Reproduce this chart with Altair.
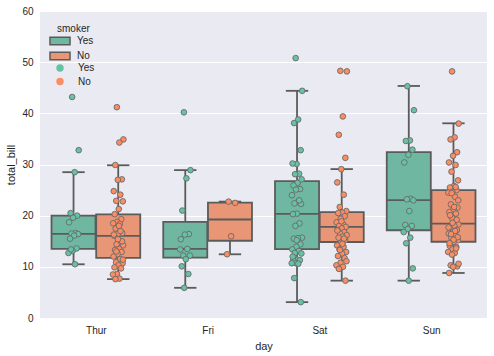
import altair as alt
import pandas as pd

days = ["Thur", "Fri", "Sat", "Sun"]
smokers = ["Yes", "No"]

# Box statistics (day, smoker order)
box_day = ["Thur", "Thur", "Fri", "Fri", "Sat", "Sat", "Sun", "Sun"]
box_smoker = ["Yes", "No", "Yes", "No", "Yes", "No", "Yes", "No"]
box_lo = [10.5, 7.6, 5.9, 12.45, 3.1, 7.3, 7.3, 8.8]
box_q1 = [13.5, 11.75, 11.8, 15.1, 13.45, 14.85, 17.15, 14.9]
box_med = [16.45, 16.05, 13.5, 19.25, 20.35, 17.8, 23.05, 18.45]
box_q3 = [20.0, 20.25, 18.8, 22.55, 26.75, 20.7, 32.4, 25.0]
box_hi = [28.5, 29.85, 28.9, 22.75, 44.4, 29.1, 45.35, 38.05]

# Individual bills (strip points)
thur_yes = [43.2, 32.8, 28.5, 20.5, 20.0, 19.6, 18.7, 16.6, 16.5, 16.4, 16.1, 15.5,
            13.6, 13.1, 12.7, 10.5, 13.4]
thur_no = [41.2, 34.9, 34.3, 29.9, 27.1, 27.0, 24.8, 24.1, 22.9, 22.8, 21.3, 20.3,
           19.3, 18.8, 18.5, 18.4, 17.5, 16.6, 16.5, 16.1, 14.7, 14.4, 14.2, 13.5,
           13.3, 12.9, 12.5, 12.0, 11.5, 10.9, 10.7, 10.3, 9.9, 9.7, 8.6, 8.5, 7.7,
           7.6, 15.0, 15.4, 16.3, 17.0, 13.0, 11.4, 18.0]
fri_yes = [40.2, 28.9, 27.3, 21.0, 16.4, 16.3, 15.4, 13.5, 12.2, 12.2, 11.5, 10.1,
           8.6, 5.9, 13.4]
fri_no = [22.75, 22.49, 15.98, 12.46]
sat_yes = [50.8, 44.4, 38.8, 38.1, 32.8, 30.1, 30.2, 28.2, 28.1, 27.1, 26.4, 25.9,
           25.2, 25.1, 24.0, 22.8, 22.4, 22.3, 20.4, 20.3, 18.5, 18.0, 15.7, 15.6,
           15.5, 14.4, 13.9, 13.4, 13.1, 12.7, 12.6, 11.4, 11.3, 11.3, 10.7, 10.7,
           10.6, 7.8, 3.1, 15.2, 12.0, 23.0]
sat_no = [48.3, 48.2, 39.4, 35.8, 31.3, 29.1, 26.5, 24.1, 21.7, 20.9, 20.6, 20.5,
          19.9, 19.4, 18.7, 18.3, 18.0, 17.8, 17.5, 17.2, 16.8, 16.5, 16.2, 15.9,
          15.7, 15.2, 14.7, 14.2, 13.9, 13.4, 12.9, 12.6, 12.1, 11.7, 10.8, 10.3,
          10.0, 9.6, 7.3, 18.9, 17.1, 15.5, 13.3, 11.1, 14.5]
sun_yes = [45.3, 40.6, 34.7, 34.6, 32.9, 31.9, 30.4, 23.3, 23.2, 23.0, 20.9, 18.2,
           18.0, 17.4, 16.8, 15.7, 14.6, 9.7, 7.3]
sun_no = [48.2, 38.0, 35.3, 34.9, 32.4, 31.7, 30.4, 29.9, 28.6, 26.9, 25.8, 25.5,
          25.0, 24.6, 24.5, 23.7, 22.2, 21.6, 21.2, 20.7, 20.4, 19.6, 18.3, 18.0,
          17.4, 17.2, 16.8, 16.5, 16.2, 15.7, 15.2, 14.9, 14.1, 13.9, 13.4, 12.9,
          12.7, 10.3, 10.1, 10.0, 8.8, 25.6, 24.4, 23.0, 21.7, 20.1, 19.2, 18.6,
          17.7, 17.0, 16.4, 15.8, 15.3, 14.6, 13.6, 12.4, 10.6]

groups = [("Thur", "Yes", thur_yes), ("Thur", "No", thur_no),
          ("Fri", "Yes", fri_yes), ("Fri", "No", fri_no),
          ("Sat", "Yes", sat_yes), ("Sat", "No", sat_no),
          ("Sun", "Yes", sun_yes), ("Sun", "No", sun_no)]

box_colors = ["#70b7a1", "#e89675"]
point_colors = ["#66c2a5", "#fc8d62"]
edge = "#5b5b5b"
DODGE = 0.2
HALF = 0.197
CAP = 0.1
JIT = 0.095

def center(day, smoker):
    return days.index(day) + (-DODGE if smoker == "Yes" else DODGE)

boxes = pd.DataFrame({
    "day": box_day, "smoker": box_smoker, "lo": box_lo, "q1": box_q1,
    "med": box_med, "q3": box_q3, "hi": box_hi,
})
boxes["pos"] = [center(d, s) for d, s in zip(box_day, box_smoker)]
boxes["xl"] = boxes["pos"] - HALF
boxes["xr"] = boxes["pos"] + HALF
boxes["cl"] = boxes["pos"] - CAP
boxes["cr"] = boxes["pos"] + CAP

rows = []
for d, s, vals in groups:
    for i, v in enumerate(vals):
        j = ((i * 0.6180339887 + 0.37) % 1.0 - 0.5) * JIT
        rows.append({"day": d, "smoker_pt": s, "total_bill": v, "pos": center(d, s) + j})
pts = pd.DataFrame(rows)

xscale = alt.Scale(domain=[-0.5, 3.5], nice=False, zero=False)
yscale = alt.Scale(domain=[0, 60], nice=False)
xaxis = alt.Axis(values=[0, 1, 2, 3], labelExpr="['Thur','Fri','Sat','Sun'][datum.value]",
                 grid=False, ticks=False, domain=False, title="day",
                 labelPadding=7, titlePadding=5)
yaxis = alt.Axis(values=[0, 10, 20, 30, 40, 50, 60], ticks=False, domain=False,
                 title="total_bill", labelPadding=7, titlePadding=5, gridColor="white",
                 gridWidth=1.2)

base = alt.Chart(boxes)

bars = base.mark_bar(stroke=edge, strokeWidth=1.8).encode(
    x=alt.X("xl:Q", scale=xscale, axis=xaxis),
    x2="xr:Q",
    y=alt.Y("q1:Q", scale=yscale, axis=yaxis),
    y2="q3:Q",
    color=alt.Color("smoker:N", scale=alt.Scale(domain=smokers, range=box_colors),
                    legend=alt.Legend(title="smoker", orient="none", legendX=17, legendY=13,
                                      symbolType="M-1.43,-0.54H1.43V0.54H-1.43Z", symbolSize=196,
                                      symbolStrokeColor=edge, symbolStrokeWidth=1.5,
                                      symbolOffset=-5, labelOffset=9, rowPadding=-2,
                                      titlePadding=-1, padding=0)),
)
wlow = base.mark_rule(color=edge, strokeWidth=1.8).encode(x="pos:Q", y="lo:Q", y2="q1:Q")
whigh = base.mark_rule(color=edge, strokeWidth=1.8).encode(x="pos:Q", y="q3:Q", y2="hi:Q")
cap_lo = base.mark_rule(color=edge, strokeWidth=1.8).encode(x="cl:Q", x2="cr:Q", y="lo:Q")
cap_hi = base.mark_rule(color=edge, strokeWidth=1.8).encode(x="cl:Q", x2="cr:Q", y="hi:Q")
meds = base.mark_rule(color=edge, strokeWidth=1.8).encode(x="xl:Q", x2="xr:Q", y="med:Q")

points = alt.Chart(pts).mark_circle(size=32, opacity=1, stroke="#6a6a6a", strokeWidth=0.9).encode(
    x="pos:Q",
    y="total_bill:Q",
    fill=alt.Fill("smoker_pt:N", scale=alt.Scale(domain=smokers, range=point_colors),
                  legend=alt.Legend(title=None, orient="none", legendX=15, legendY=52,
                                    symbolType="circle", symbolSize=55, symbolStrokeWidth=0,
                                    labelOffset=13, rowPadding=3.5, padding=0)),
)

chart = alt.layer(bars, wlow, whigh, cap_lo, cap_hi, meds, points).resolve_scale(
    color="independent", fill="independent"
).properties(
    width=447, height=307,
    autosize=alt.AutoSizeParams(type="none"),
    padding={"left": 40, "top": 11, "right": 7, "bottom": 38},
).configure_view(fill="#EAEAF2", stroke=None).configure_axis(
    labelFont="Liberation Sans", titleFont="Liberation Sans", labelFontSize=10,
    titleFontSize=11, titleFontWeight="normal", labelColor="#262626", titleColor="#262626",
).configure_legend(
    labelFont="Liberation Sans", titleFont="Liberation Sans", labelFontSize=10,
    titleFontSize=10, titleFontWeight="normal", labelColor="#262626", titleColor="#262626",
)

chart.save("out.html", embed_options={"renderer": "svg", "actions": False})
